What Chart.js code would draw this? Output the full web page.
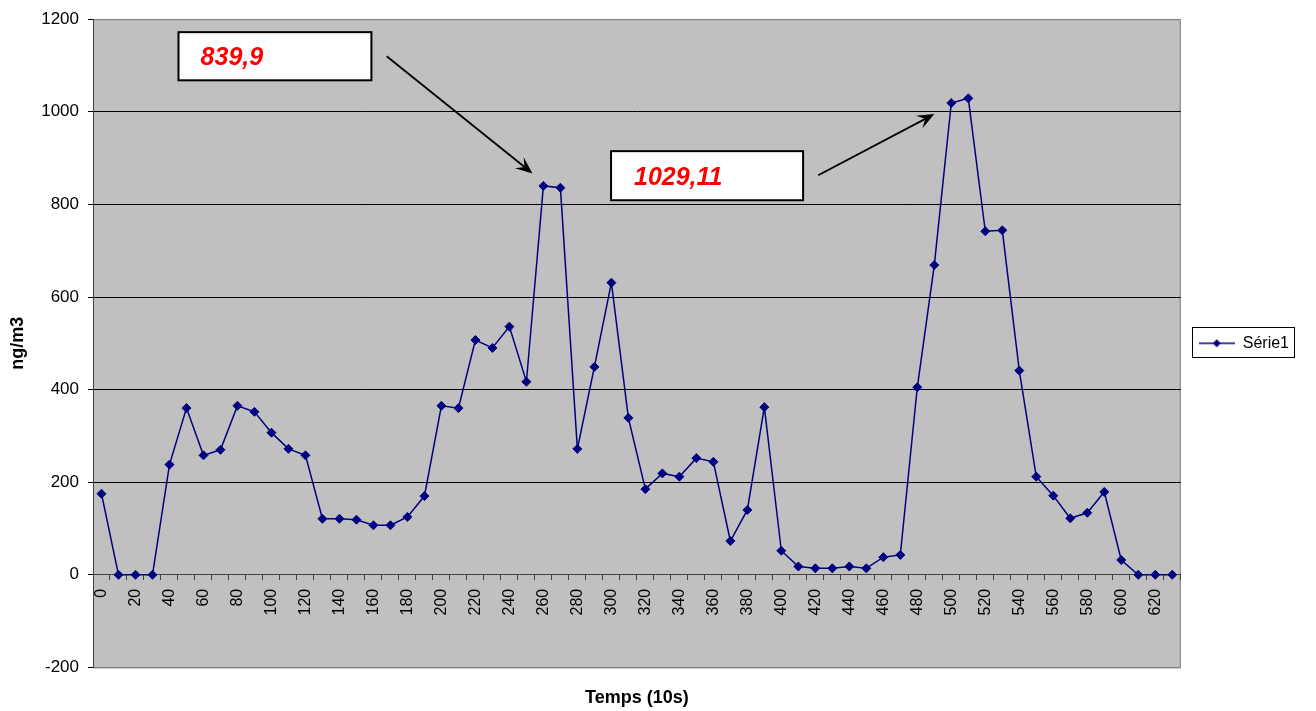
<!DOCTYPE html>
<html>
<head>
<meta charset="utf-8">
<script src="https://cdn.jsdelivr.net/npm/chart.js@4.4.1/dist/chart.umd.min.js"></script>
<style>
  html, body { margin: 0; padding: 0; background: #ffffff; }
  #wrap { width: 1316px; height: 711px; position: relative; }
</style>
</head>
<body>
<div id="wrap"><canvas id="c"></canvas></div>
<script>
// ---- Data ----
const categories = ['0','10','20','30','40','50','60','70','80','90',
  '100','110','120','130','140','150','160','170','180','190',
  '200','210','220','230','240','250','260','270','280','290',
  '300','310','320','330','340','350','360','370','380','390',
  '400','410','420','430','440','450','460','470','480','490',
  '500','510','520','530','540','550','560','570','580','590',
  '600','610','620','630'];
const serie1 = [175,0,0,0,238,360,258,270,365,352,
  307,272,258,121,121,119,107,107,125,170,
  365,360,507,490,536,417,839.9,836,272,449,
  631,339,185,219,212,252,244,73,140,362,
  52,18,14,14,18,14,38,43,405,669,
  1019,1029.11,742,744,441,212,171,122,134,179,
  32,0,0,0];
const seriesName = 'Série1';
const yTitle = 'ng/m3';
const xTitle = 'Temps (10s)';
const yMin = -200, yMax = 1200, yStep = 200;
// annotation texts and anchors (category index, value)
const annotations = [
  { text: '839,9',   box: [4.53, 1172, 15.88, 1068], textX: 5.83, from: [16.78, 1120], to: [25.36, 867] },
  { text: '1029,11', box: [29.98, 915, 41.28, 809], textX: 31.33, from: [42.17, 863], to: [49.0, 995] }
];

const FONT = '"Liberation Sans", Arial, sans-serif';
const NAVY = '#000080';

// legend symbol: line with a diamond
const sym = document.createElement('canvas');
sym.width = 36; sym.height = 12;
(function(){
  const g = sym.getContext('2d');
  g.strokeStyle = NAVY; g.lineWidth = 1.5;
  g.beginPath(); g.moveTo(0, 6); g.lineTo(36, 6); g.stroke();
  g.fillStyle = NAVY;
  g.beginPath(); g.moveTo(18, 2); g.lineTo(22, 6); g.lineTo(18, 10); g.lineTo(14, 6); g.closePath(); g.fill();
})();

const plotArea = {
  id: 'plotArea',
  beforeDraw(chart) {
    const {ctx, chartArea: a} = chart;
    ctx.save();
    ctx.fillStyle = '#C0C0C0';
    ctx.fillRect(a.left, a.top, a.right - a.left, a.bottom - a.top);
    ctx.strokeStyle = '#808080';
    ctx.lineWidth = 1;
    ctx.strokeRect(a.left + 0.5, a.top + 0.5, a.right - a.left - 1, a.bottom - a.top);
    ctx.restore();
  },
  afterDraw(chart) {
    const {ctx} = chart;
    const xs = chart.scales.x, ys = chart.scales.y;
    // legend border
    const hb = chart.legend && chart.legend.legendHitBoxes && chart.legend.legendHitBoxes[0];
    if (hb) {
      ctx.save();
      ctx.strokeStyle = '#000000';
      ctx.lineWidth = 1;
      ctx.strokeRect(Math.round(hb.left) - 6.5, Math.round(hb.top) - 7.5, Math.round(hb.width) + 12, Math.round(hb.height) + 14);
      ctx.restore();
    }
    // annotations
    annotations.forEach(an => {
      const x0 = xs.getPixelForValue(an.box[0]), y0 = ys.getPixelForValue(an.box[1]);
      const x1 = xs.getPixelForValue(an.box[2]), y1 = ys.getPixelForValue(an.box[3]);
      ctx.save();
      ctx.fillStyle = '#ffffff';
      ctx.fillRect(x0, y0, x1 - x0, y1 - y0);
      ctx.strokeStyle = '#000000';
      ctx.lineWidth = 2;
      ctx.strokeRect(x0, y0, x1 - x0, y1 - y0);
      ctx.fillStyle = '#ff0000';
      ctx.font = 'italic bold 25px ' + FONT;
      ctx.textBaseline = 'middle';
      ctx.textAlign = 'left';
      ctx.fillText(an.text, xs.getPixelForValue(an.textX), (y0 + y1) / 2 + 2);
      // arrow
      const ax = xs.getPixelForValue(an.from[0]), ay = ys.getPixelForValue(an.from[1]);
      const bx = xs.getPixelForValue(an.to[0]), by = ys.getPixelForValue(an.to[1]);
      const ang = Math.atan2(by - ay, bx - ax);
      const hl = 17, hw = 7;
      ctx.strokeStyle = '#000000';
      ctx.lineWidth = 1.8;
      ctx.beginPath();
      ctx.moveTo(ax, ay);
      ctx.lineTo(bx - Math.cos(ang) * hl * 0.6, by - Math.sin(ang) * hl * 0.6);
      ctx.stroke();
      ctx.fillStyle = '#000000';
      ctx.beginPath();
      ctx.moveTo(bx, by);
      ctx.lineTo(bx - Math.cos(ang) * hl - Math.sin(ang) * hw, by - Math.sin(ang) * hl + Math.cos(ang) * hw);
      ctx.lineTo(bx - Math.cos(ang) * hl * 0.6, by - Math.sin(ang) * hl * 0.6);
      ctx.lineTo(bx - Math.cos(ang) * hl + Math.sin(ang) * hw, by - Math.sin(ang) * hl - Math.cos(ang) * hw);
      ctx.closePath();
      ctx.fill();
      ctx.restore();
    });
  }
};

new Chart(document.getElementById('c'), {
  type: 'line',
  data: {
    labels: categories,
    datasets: [{
      label: seriesName,
      data: serie1,
      borderColor: NAVY,
      backgroundColor: NAVY,
      borderWidth: 1.5,
      pointStyle: 'rectRot',
      pointRadius: 4.5,
      pointBackgroundColor: NAVY,
      pointBorderColor: NAVY,
      pointBorderWidth: 1,
      tension: 0,
      fill: false
    }]
  },
  options: {
    responsive: true,
    maintainAspectRatio: false,
    animation: false,
    layout: { padding: { top: 17, right: 17, bottom: 0, left: 0 } },
    plugins: {
      tooltip: { enabled: false },
      legend: {
        position: 'right',
        fullSize: false,
        labels: {
          usePointStyle: true,
          pointStyle: sym,
          pointStyleWidth: 36,
          padding: 18,
          color: '#000000',
          font: { family: FONT, size: 16 },
          generateLabels(chart) {
            return [{ text: seriesName, pointStyle: sym, fillStyle: NAVY, strokeStyle: NAVY, lineWidth: 0, hidden: false, datasetIndex: 0, fontColor: '#000000' }];
          }
        }
      }
    },
    scales: {
      x: {
        type: 'category',
        position: { y: 0 },
        offset: true,
        grid: { display: true, drawOnChartArea: false, drawTicks: true, tickLength: 5, offset: true, color: '#404040' },
        border: { display: true, color: '#404040', width: 1 },
        ticks: {
          autoSkip: false, minRotation: 90, maxRotation: 90, padding: 9,
          color: '#000000', font: { family: FONT, size: 16 },
          callback(v, i) { return i % 2 === 0 ? this.getLabelForValue(v) : ''; }
        }
      },
      x2: {
        type: 'category',
        position: 'bottom',
        labels: categories,
        grid: { display: false },
        border: { display: false },
        ticks: { display: false },
        title: { display: true, text: xTitle, color: '#000000', font: { family: FONT, size: 18, weight: 'bold' }, padding: { top: 12, bottom: 2 } }
      },
      y: {
        min: yMin, max: yMax,
        position: 'left',
        afterFit(scale) { scale.width = 93; },
        grid: {
          color(ctx) { return (ctx.tick && (ctx.tick.value === yMin || ctx.tick.value === yMax)) ? '#808080' : '#000000'; },
          tickColor: '#000000', tickLength: 5, lineWidth: 1
        },
        border: { display: true, color: '#404040', width: 1 },
        ticks: { stepSize: yStep, padding: 9, color: '#000000', font: { family: FONT, size: 17 },
          callback(v) { return String(v); } },
        title: { display: true, text: yTitle, color: '#000000', font: { family: FONT, size: 18, weight: 'bold' }, padding: { top: 7, bottom: 4 } }
      }
    }
  },
  plugins: [plotArea]
});
</script>
</body>
</html>
